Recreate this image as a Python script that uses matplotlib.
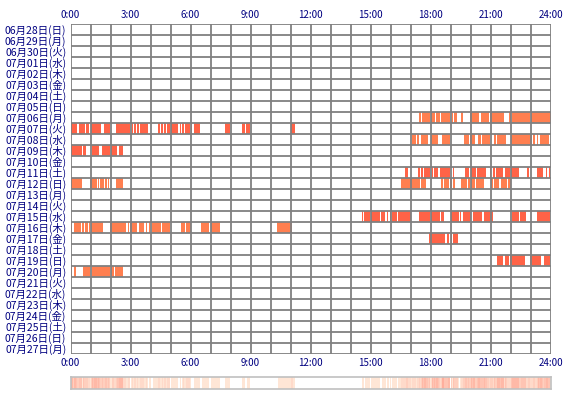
import numpy as np
import matplotlib
matplotlib.use("Agg")
import matplotlib.pyplot as plt
from matplotlib.colors import LinearSegmentedColormap

plt.rcParams["font.family"] = ["Noto Sans CJK JP", "DejaVu Sans"]

# ---------------------------------------------------------------------------
# Data: one label per day, active sessions as (start, end) minutes after 0:00
# ---------------------------------------------------------------------------
DAYS = [
    "06月28日(日)", "06月29日(月)", "06月30日(火)", "07月01日(水)", "07月02日(木)",
    "07月03日(金)", "07月04日(土)", "07月05日(日)", "07月06日(月)", "07月07日(火)",
    "07月08日(水)", "07月09日(木)", "07月10日(金)", "07月11日(土)", "07月12日(日)",
    "07月13日(月)", "07月14日(火)", "07月15日(水)", "07月16日(木)", "07月17日(金)",
    "07月18日(土)", "07月19日(日)", "07月20日(月)", "07月21日(火)", "07月22日(水)",
    "07月23日(木)", "07月24日(金)", "07月25日(土)", "07月26日(日)", "07月27日(月)",
]

HOUR_TICKS = [0, 3, 6, 9, 12, 15, 18, 21, 24]

seg_0706 = [(1045, 1051), (1053, 1078), (1082, 1092), (1095, 1108), (1112, 1138),
            (1145, 1148), (1151, 1160), (1170, 1178), (1197, 1226), (1230, 1254),
            (1258, 1300), (1316, 1320), (1324, 1378), (1382, 1440)]
seg_0707 = [(0, 19), (25, 42), (45, 55), (60, 90), (100, 117), (137, 177), (183, 187),
            (190, 195), (199, 204), (207, 232), (262, 268), (271, 276), (280, 285),
            (288, 297), (300, 322), (327, 330), (335, 339), (342, 357), (362, 364),
            (370, 388), (462, 478), (514, 522), (527, 538), (660, 673)]
seg_0708 = [(1023, 1036), (1038, 1045), (1051, 1071), (1081, 1101), (1114, 1138),
            (1180, 1194), (1198, 1213), (1221, 1230), (1234, 1258), (1270, 1275),
            (1278, 1305), (1320, 1383), (1386, 1393), (1398, 1403), (1408, 1435)]
seg_0709 = [(0, 34), (37, 45), (64, 84), (94, 117), (122, 139), (145, 157)]
seg_0711 = [(1004, 1011), (1043, 1047), (1050, 1057), (1060, 1078), (1083, 1086),
            (1090, 1103), (1108, 1138), (1148, 1150), (1182, 1196), (1200, 1215),
            (1218, 1247), (1257, 1261), (1266, 1272), (1276, 1298), (1303, 1318),
            (1321, 1345), (1370, 1376), (1400, 1416), (1426, 1430), (1435, 1438)]
seg_0712 = [(0, 34), (59, 78), (81, 86), (89, 99), (102, 109), (112, 115), (137, 157),
            (990, 1048), (1052, 1065), (1110, 1118), (1121, 1136), (1139, 1144),
            (1147, 1153), (1172, 1188), (1191, 1198), (1201, 1213), (1216, 1241),
            (1260, 1266), (1269, 1286), (1290, 1308), (1313, 1322)]
seg_0715 = [(874, 878), (881, 897), (901, 928), (932, 944), (948, 953), (957, 960),
            (963, 978), (982, 1020), (1046, 1078), (1082, 1108), (1112, 1120),
            (1140, 1164), (1167, 1172), (1176, 1202), (1206, 1233), (1239, 1266),
            (1324, 1344), (1349, 1366), (1400, 1438)]
seg_0716 = [(0, 5), (9, 32), (35, 40), (43, 51), (54, 57), (60, 66), (68, 97),
            (118, 165), (172, 176), (179, 200), (204, 220), (226, 229), (234, 239),
            (245, 270), (273, 297), (332, 342), (346, 360), (392, 415), (420, 448),
            (620, 665)]
seg_0717 = [(1075, 1122), (1130, 1136), (1140, 1144), (1147, 1162)]
seg_0719 = [(1278, 1298), (1303, 1314), (1319, 1364), (1378, 1412), (1420, 1438)]
seg_0720 = [(0, 5), (10, 16), (37, 59), (64, 118), (122, 130), (134, 157)]

SESSION_DAYS = ["07月06日(月)", "07月07日(火)", "07月08日(水)", "07月09日(木)",
                "07月11日(土)", "07月12日(日)", "07月15日(水)", "07月16日(木)",
                "07月17日(金)", "07月19日(日)", "07月20日(月)"]
SESSIONS = [seg_0706, seg_0707, seg_0708, seg_0709, seg_0711, seg_0712,
            seg_0715, seg_0716, seg_0717, seg_0719, seg_0720]

# ---------------------------------------------------------------------------
# Style
# ---------------------------------------------------------------------------
GRID = "#808080"
LABEL = "#000080"
TOMATO = "#ff6347"
CORAL = "#ff7f50"
SESSION_COLORS = [CORAL, TOMATO, CORAL, TOMATO, TOMATO, CORAL,
                  TOMATO, CORAL, TOMATO, TOMATO, CORAL]

W, H = 570, 400
fig = plt.figure(figsize=(W / 100, H / 100), dpi=100)
fig.patch.set_facecolor("white")

ax = fig.add_axes([70.5 / W, 1 - 354 / H, 480 / W, 330 / H])
hax = fig.add_axes([70.5 / W, 1 - 389 / H, 480 / W, 12 / H])

n_days = len(DAYS)
for day, segs, col in zip(SESSION_DAYS, SESSIONS, SESSION_COLORS):
    row = DAYS.index(day)
    ax.broken_barh([(s, e - s) for s, e in segs], (row, 1),
                   facecolor=col, edgecolor="none", zorder=2)

for h in range(25):
    ax.axvline(h * 60, color=GRID, lw=1.3, zorder=3)
for r in range(n_days + 1):
    ax.axhline(r, color=GRID, lw=1.3, zorder=3)

ax.set_xlim(0, 1440)
ax.set_ylim(n_days, 0)
for s in ax.spines.values():
    s.set_visible(False)

ax.set_xticks([h * 60 for h in HOUR_TICKS])
ax.set_xticklabels([f"{h}:00" for h in HOUR_TICKS], fontsize=7, color=LABEL)
ax.tick_params(axis="x", top=True, labeltop=True, bottom=True, labelbottom=True,
               length=0, pad=3)
ax.set_yticks(np.arange(n_days) + 0.5)
ax.set_yticklabels(DAYS, fontsize=7.5, color=LABEL)
ax.tick_params(axis="y", length=0, pad=3)

# frequency strip: how many days were active at each minute
counts = np.zeros(1440)
for segs in SESSIONS:
    for s, e in segs:
        counts[s:e] += 1

cmap = LinearSegmentedColormap.from_list(
    "freq", [(0, "white"), (1 / 6, "#ffe6d6"), (1, "#ffae9c")])
hax.imshow(counts[None, :], aspect="auto", extent=(0, 1440, 0, 1),
           cmap=cmap, vmin=0, vmax=6, interpolation="nearest")
hax.set_xticks([])
hax.set_yticks([])
for s in hax.spines.values():
    s.set_color("#c0c0c0")
    s.set_linewidth(1.2)

fig.savefig("out.png", dpi=100)
